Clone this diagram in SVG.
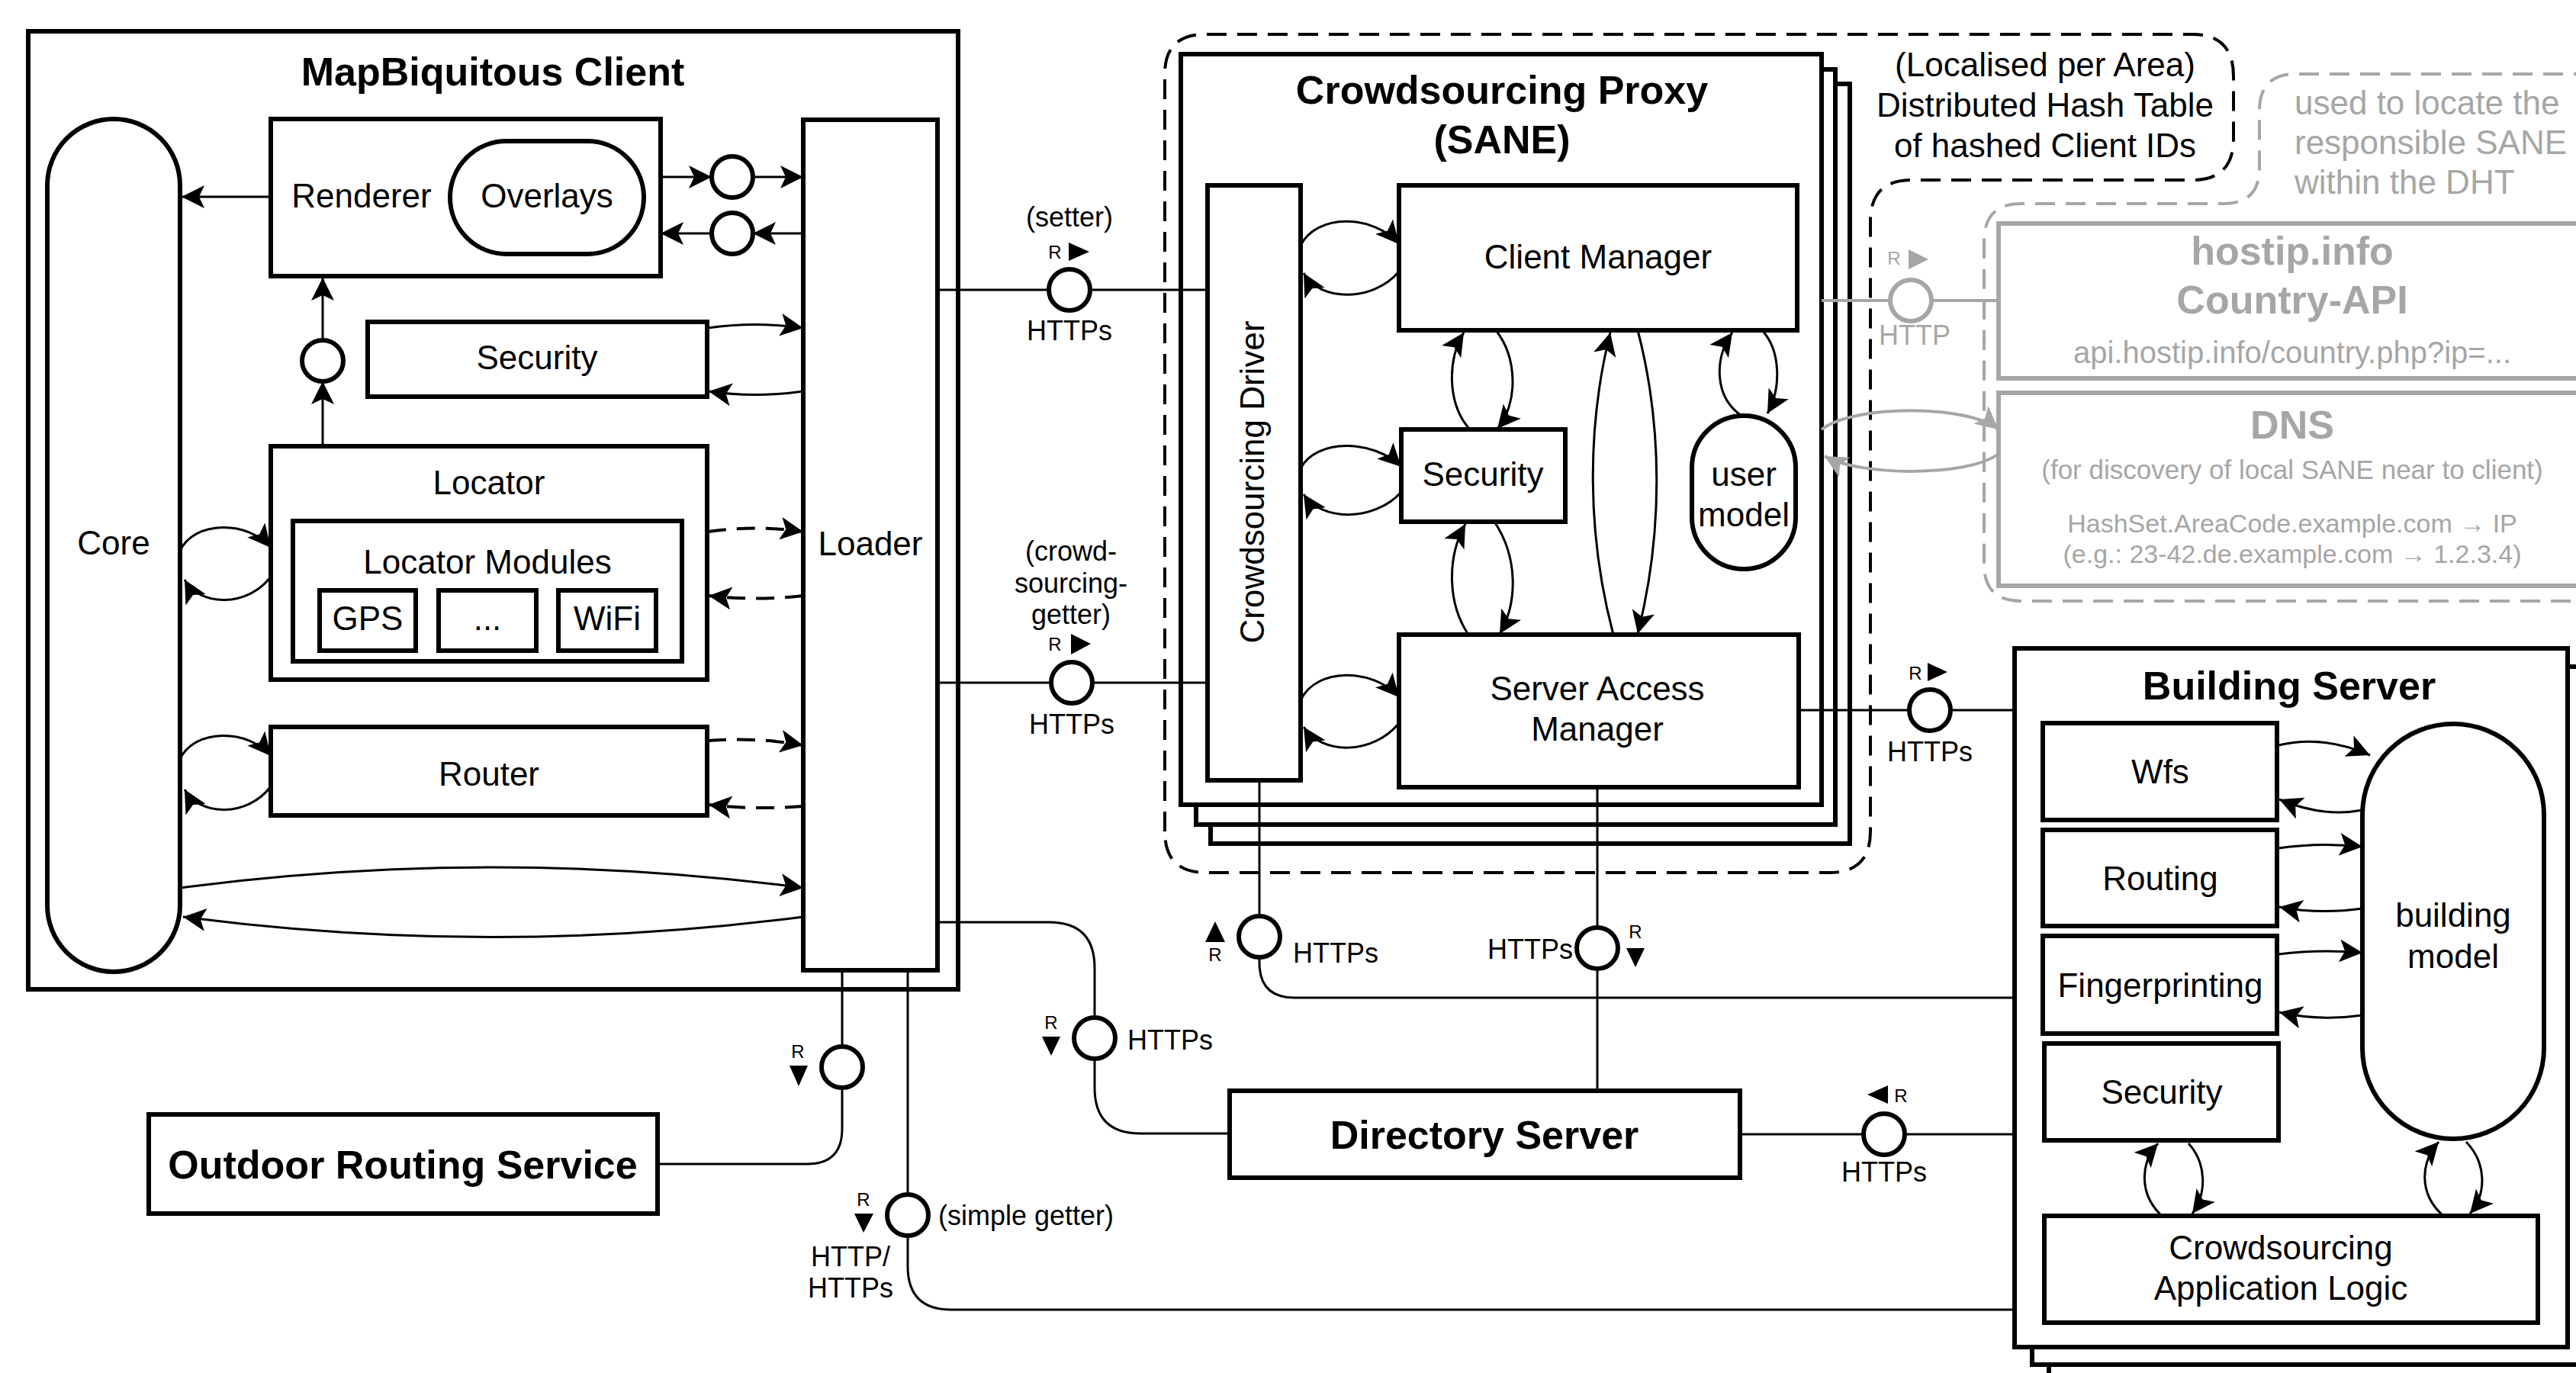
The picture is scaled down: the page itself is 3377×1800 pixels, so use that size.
<svg xmlns="http://www.w3.org/2000/svg" width="3377" height="1800" viewBox="0 0 3377 1800">
<defs>
<style>
text{font-family:"Liberation Sans",Arial,sans-serif;fill:#000;text-anchor:middle}
.t{font-size:44px}
.tb{font-size:52px;font-weight:bold}
.s{font-size:36px}
.r{font-size:24px}
.gr{fill:#a6a6a6}
.box{fill:#fff;stroke:#000;stroke-width:6}
.gbox{fill:#fff;stroke:#a6a6a6;stroke-width:6}
.ln{fill:none;stroke:#000;stroke-width:3}
.arr{fill:none;stroke:#000;stroke-width:3;marker-end:url(#ah)}
.dash{fill:none;stroke:#000;stroke-width:4;stroke-dasharray:24 14;marker-end:url(#ah)}
.garr{fill:none;stroke:#a6a6a6;stroke-width:4;marker-end:url(#ahg)}
.gln{fill:none;stroke:#a6a6a6;stroke-width:4}
.ifc{fill:#fff;stroke:#000;stroke-width:6}
.gifc{fill:#fff;stroke:#a6a6a6;stroke-width:6}
.tri{fill:#000}
.gtri{fill:#a6a6a6}
.region{fill:none;stroke:#000;stroke-width:4;stroke-dasharray:26 14}
.gregion{fill:none;stroke:#a6a6a6;stroke-width:4;stroke-dasharray:26 14}
</style>
<marker id="ah" markerUnits="userSpaceOnUse" markerWidth="34" markerHeight="34" refX="30" refY="15" orient="auto"><path d="M0,0 L30,15 L0,30 L7,15 z" fill="#000"/></marker>
<marker id="ahg" markerUnits="userSpaceOnUse" markerWidth="34" markerHeight="34" refX="30" refY="15" orient="auto"><path d="M0,0 L30,15 L0,30 L7,15 z" fill="#a6a6a6"/></marker>
</defs>
<rect x="0" y="0" width="3377" height="1800" fill="#fff"/>

<!-- regions -->
<g id="dht-region">
<path class="region" d="M1527,1090 L1527,97 Q1527,45 1580,45 L2874,45 Q2928,45 2928,100 L2928,182 Q2928,236 2874,236 L2506,236 Q2452,236 2452,290 L2452,1090 Q2452,1144 2398,1144 L1581,1144 Q1527,1144 1527,1090 Z"/>
<text class="t" x="2681" y="100">(Localised per Area)</text>
<text class="t" x="2681" y="153">Distributed Hash Table</text>
<text class="t" x="2681" y="206">of hashed Client IDs</text>
</g>
<g id="external-region">
<path class="gregion" d="M3400,97 L3010,97 Q2962,97 2962,145 L2962,220 Q2962,267 2915,267 L2650,267 Q2601,267 2601,316 L2601,740 Q2601,788 2650,788 L3400,788"/>
<text class="t gr" x="3008" y="150" style="text-anchor:start">used to locate the</text>
<text class="t gr" x="3008" y="202" style="text-anchor:start">responsible SANE</text>
<text class="t gr" x="3008" y="254" style="text-anchor:start">within the DHT</text>
</g>

<!-- MapBiquitous Client -->
<g id="client">
<rect class="box" x="37" y="41" width="1219" height="1256"/>
<text class="tb" x="646" y="112">MapBiquitous Client</text>
</g>
<g id="core">
<rect class="box" x="62" y="156" width="174" height="1118" rx="87" ry="87"/>
<text class="t" x="149" y="727">Core</text>
</g>
<g id="renderer">
<rect class="box" x="355" y="156" width="511" height="206"/>
<text class="t" x="474" y="272">Renderer</text>
</g>
<g id="overlays">
<rect class="box" x="590" y="185" width="254" height="148" rx="74" ry="74"/>
<text class="t" x="717" y="272">Overlays</text>
</g>
<g id="client-security">
<rect class="box" x="482" y="422" width="445" height="98"/>
<text class="t" x="704" y="484">Security</text>
</g>
<g id="locator">
<rect class="box" x="355" y="585" width="572" height="306"/>
<text class="t" x="641" y="648">Locator</text>
</g>
<g id="locator-modules">
<rect class="box" x="384" y="683" width="510" height="184"/>
<text class="t" x="639" y="752">Locator Modules</text>
</g>
<g id="gps">
<rect class="box" x="419" y="774" width="126" height="79"/>
<text class="t" x="482" y="826">GPS</text>
</g>
<g id="dots">
<rect class="box" x="575" y="774" width="128" height="79"/>
<text class="t" x="639" y="826">...</text>
</g>
<g id="wifi">
<rect class="box" x="732" y="774" width="128" height="79"/>
<text class="t" x="796" y="826">WiFi</text>
</g>
<g id="router">
<rect class="box" x="355" y="953" width="572" height="116"/>
<text class="t" x="641" y="1030">Router</text>
</g>
<g id="loader">
<rect class="box" x="1053" y="157" width="176" height="1115"/>
<text class="t" x="1141" y="728">Loader</text>
</g>

<!-- Outdoor Routing / Directory -->
<g id="outdoor-routing">
<rect class="box" x="195" y="1461" width="667" height="130"/>
<text class="tb" x="528" y="1545">Outdoor Routing Service</text>
</g>
<g id="directory">
<rect class="box" x="1612" y="1430" width="669" height="114"/>
<text class="tb" x="1946" y="1506">Directory Server</text>
</g>

<!-- SANE -->
<g id="sane">
<rect class="box" x="1587" y="110" width="838" height="996"/>
<rect class="box" x="1568" y="91" width="838" height="990"/>
<rect class="box" x="1548" y="71" width="840" height="984"/>
<text class="tb" x="1969" y="136">Crowdsourcing Proxy</text>
<text class="tb" x="1969" y="201">(SANE)</text>
</g>
<g id="driver">
<rect class="box" x="1583" y="243" width="122" height="780"/>
<text class="t" transform="translate(1657,632) rotate(-90)">Crowdsourcing Driver</text>
</g>
<g id="client-manager">
<rect class="box" x="1834" y="243" width="522" height="190"/>
<text class="t" x="2095" y="352">Client Manager</text>
</g>
<g id="sane-security">
<rect class="box" x="1837" y="563" width="215" height="121"/>
<text class="t" x="1944" y="637">Security</text>
</g>
<g id="user-model">
<rect class="box" x="2218" y="545" width="136" height="201" rx="68" ry="68"/>
<text class="t" x="2286" y="637">user</text>
<text class="t" x="2286" y="690">model</text>
</g>
<g id="server-access-manager">
<rect class="box" x="1834" y="832" width="524" height="200"/>
<text class="t" x="2094" y="918">Server Access</text>
<text class="t" x="2094" y="971">Manager</text>
</g>

<!-- external gray services -->
<g id="hostip">
<rect class="gbox" x="2620" y="293" width="800" height="203"/>
<text class="tb gr" x="3005" y="347">hostip.info</text>
<text class="tb gr" x="3005" y="411">Country-API</text>
<text class="gr" x="3005" y="476" style="font-size:40px">api.hostip.info/country.php?ip=...</text>
</g>
<g id="dns">
<rect class="gbox" x="2620" y="515" width="800" height="253"/>
<text class="tb gr" x="3005" y="575">DNS</text>
<text class="gr" x="3005" y="628" style="font-size:35px">(for discovery of local SANE near to client)</text>
<text class="gr" x="3005" y="698" style="font-size:34px">HashSet.AreaCode.example.com → IP</text>
<text class="gr" x="3005" y="738" style="font-size:34px">(e.g.: 23-42.de.example.com → 1.2.3.4)</text>
</g>

<!-- Building Server -->
<g id="building-server">
<rect class="box" x="2686" y="898" width="725" height="914"/>
<rect class="box" x="2664" y="874" width="725" height="915"/>
<rect class="box" x="2641" y="850" width="725" height="916"/>
<text class="tb" x="3001" y="917">Building Server</text>
</g>
<g id="wfs">
<rect class="box" x="2678" y="948" width="307" height="127"/>
<text class="t" x="2832" y="1027">Wfs</text>
</g>
<g id="routing">
<rect class="box" x="2678" y="1088" width="307" height="126"/>
<text class="t" x="2832" y="1167">Routing</text>
</g>
<g id="fingerprinting">
<rect class="box" x="2678" y="1227" width="307" height="128"/>
<text class="t" x="2832" y="1307">Fingerprinting</text>
</g>
<g id="bs-security">
<rect class="box" x="2680" y="1368" width="307" height="127"/>
<text class="t" x="2834" y="1447">Security</text>
</g>
<g id="building-model">
<rect class="box" x="3097" y="949" width="238" height="544" rx="119" ry="119"/>
<text class="t" x="3216" y="1215">building</text>
<text class="t" x="3216" y="1269">model</text>
</g>
<g id="app-logic">
<rect class="box" x="2680" y="1594" width="647" height="140"/>
<text class="t" x="2990" y="1651">Crowdsourcing</text>
<text class="t" x="2990" y="1704">Application Logic</text>
</g>

<!-- connectors -->
<g id="connectors">
<!-- client internal -->
<path class="arr" d="M355,258 L238,258"/>
<path class="arr" d="M866,232 L933,232"/>
<path class="arr" d="M987,232 L1053,232"/>
<path class="arr" d="M1053,306 L987,306"/>
<path class="arr" d="M933,306 L866,306"/>
<path class="arr" d="M423,585 L423,500"/>
<path class="arr" d="M423,446 L423,364"/>
<path class="arr" d="M928,430 Q990,421 1053,430"/>
<path class="arr" d="M1053,513 Q990,522 929,513"/>
<path class="arr" d="M236,722 C255,682 325,682 355,718"/>
<path class="arr" d="M355,756 C325,796 262,796 242,760"/>
<path class="arr" d="M236,995 C255,955 325,955 355,991"/>
<path class="arr" d="M355,1031 C325,1071 262,1071 242,1035"/>
<path class="dash" d="M928,697 Q990,688 1053,697"/>
<path class="dash" d="M1053,781 Q990,788 929,781"/>
<path class="dash" d="M928,971 Q990,966 1053,977"/>
<path class="dash" d="M1053,1057 Q990,1062 929,1055"/>
<path class="arr" d="M236,1164 Q645,1110 1053,1164"/>
<path class="arr" d="M1053,1202 Q645,1255 240,1202"/>

<!-- client external -->
<path class="ln" d="M1229,380 L1583,380"/>
<path class="ln" d="M1229,895 L1583,895"/>
<path class="ln" d="M1229,1209 L1375,1209 Q1435,1209 1435,1269 L1435,1426 Q1435,1486 1495,1486 L1612,1486"/>
<path class="ln" d="M1104,1272 L1104,1480 Q1104,1526 1058,1526 L862,1526"/>
<path class="ln" d="M1190,1272 L1190,1660 Q1190,1717 1247,1717 L2641,1717"/>

<!-- SANE internal -->
<path class="arr" d="M1705,322 C1725,280 1800,280 1834,320"/>
<path class="arr" d="M1834,356 C1800,396 1730,396 1709,358"/>
<path class="arr" d="M1705,614 C1725,575 1800,575 1837,612"/>
<path class="arr" d="M1837,645 C1802,684 1732,684 1709,648"/>
<path class="arr" d="M1705,918 C1725,875 1800,875 1834,914"/>
<path class="arr" d="M1834,948 C1800,990 1732,990 1709,953"/>
<path class="arr" d="M1927,563 C1897,530 1897,470 1919,436"/>
<path class="arr" d="M1961,433 C1990,470 1990,530 1963,562"/>
<path class="arr" d="M1925,832 C1897,790 1897,730 1921,687"/>
<path class="arr" d="M1959,684 C1990,730 1990,790 1966,831"/>
<path class="arr" d="M2115,832 C2080,700 2080,560 2111,436"/>
<path class="arr" d="M2147,433 C2180,560 2180,700 2147,831"/>
<path class="arr" d="M2283,545 C2247,520 2247,470 2271,436"/>
<path class="arr" d="M2310,433 C2335,460 2335,510 2317,542"/>

<!-- SANE external -->
<path class="ln" d="M2358,931 L2641,931"/>
<path class="ln" d="M1651,1023 L1651,1262 Q1651,1308 1697,1308 L2641,1308"/>
<path class="ln" d="M2094,1032 L2094,1430"/>
<path class="ln" d="M2281,1487 L2641,1487"/>
<path class="gln" d="M2388,394 L2620,394"/>
<path class="garr" d="M2388,563 C2430,530 2580,530 2620,563"/>
<path class="garr" d="M2620,595 C2580,625 2440,625 2392,598"/>

<!-- building internal -->
<path class="arr" d="M2987,977 Q3045,963 3107,990"/>
<path class="arr" d="M3097,1062 Q3045,1072 2988,1048"/>
<path class="arr" d="M2987,1112 Q3040,1104 3097,1110"/>
<path class="arr" d="M3097,1191 Q3040,1199 2988,1189"/>
<path class="arr" d="M2987,1251 Q3040,1244 3097,1249"/>
<path class="arr" d="M3097,1331 Q3040,1339 2988,1327"/>
<path class="arr" d="M2832,1592 C2805,1565 2805,1525 2829,1499"/>
<path class="arr" d="M2869,1499 C2893,1525 2893,1565 2874,1591"/>
<path class="arr" d="M3201,1592 C3172,1565 3172,1525 3197,1497"/>
<path class="arr" d="M3233,1497 C3260,1525 3260,1565 3238,1591"/>
</g>

<!-- interface circles and labels -->
<g id="interfaces">
<circle class="ifc" cx="960" cy="232" r="27"/>
<circle class="ifc" cx="960" cy="306" r="27"/>
<circle class="ifc" cx="423" cy="473" r="27"/>

<circle class="ifc" cx="1402" cy="380" r="27"/>
<text class="s" x="1402" y="297">(setter)</text>
<text class="r" x="1383" y="339">R</text>
<polygon class="tri" points="1401,318 1428,330 1401,342"/>
<text class="s" x="1402" y="446">HTTPs</text>

<circle class="ifc" cx="1405" cy="895" r="27"/>
<text class="s" x="1404" y="735">(crowd-</text>
<text class="s" x="1404" y="777">sourcing-</text>
<text class="s" x="1404" y="818">getter)</text>
<text class="r" x="1383" y="853">R</text>
<polygon class="tri" points="1404,831 1430,844 1404,858"/>
<text class="s" x="1405" y="962">HTTPs</text>

<circle class="ifc" cx="1435" cy="1361" r="27"/>
<text class="r" x="1378" y="1349">R</text>
<polygon class="tri" points="1366,1359 1390,1359 1378,1384"/>
<text class="s" x="1478" y="1376" style="text-anchor:start">HTTPs</text>

<circle class="ifc" cx="1104" cy="1399" r="27"/>
<text class="r" x="1046" y="1387">R</text>
<polygon class="tri" points="1035,1397 1059,1397 1047,1424"/>

<circle class="ifc" cx="1190" cy="1593" r="27"/>
<text class="r" x="1132" y="1581">R</text>
<polygon class="tri" points="1120,1591 1145,1591 1132,1616"/>
<text class="s" x="1230" y="1606" style="text-anchor:start">(simple getter)</text>
<text class="s" x="1115" y="1660">HTTP/</text>
<text class="s" x="1115" y="1701">HTTPs</text>

<circle class="ifc" cx="1651" cy="1228" r="27"/>
<polygon class="tri" points="1580,1235 1606,1235 1593,1208"/>
<text class="r" x="1593" y="1260">R</text>
<text class="s" x="1695" y="1262" style="text-anchor:start">HTTPs</text>

<circle class="ifc" cx="2094" cy="1243" r="27"/>
<text class="s" x="2062" y="1257" style="text-anchor:end">HTTPs</text>
<text class="r" x="2144" y="1230">R</text>
<polygon class="tri" points="2132,1243 2156,1243 2144,1268"/>

<circle class="ifc" cx="2530" cy="931" r="27"/>
<text class="r" x="2511" y="891">R</text>
<polygon class="tri" points="2527,869 2553,881 2527,893"/>
<text class="s" x="2530" y="998">HTTPs</text>

<circle class="ifc" cx="2470" cy="1487" r="27"/>
<polygon class="tri" points="2475,1423 2475,1447 2448,1435"/>
<text class="r" x="2492" y="1445">R</text>
<text class="s" x="2470" y="1549">HTTPs</text>

<circle class="gifc" cx="2505" cy="394" r="27"/>
<text class="r gr" x="2483" y="347">R</text>
<polygon class="gtri" points="2502,327 2528,340 2502,353"/>
<text class="s gr" x="2510" y="452">HTTP</text>
</g>
</svg>
